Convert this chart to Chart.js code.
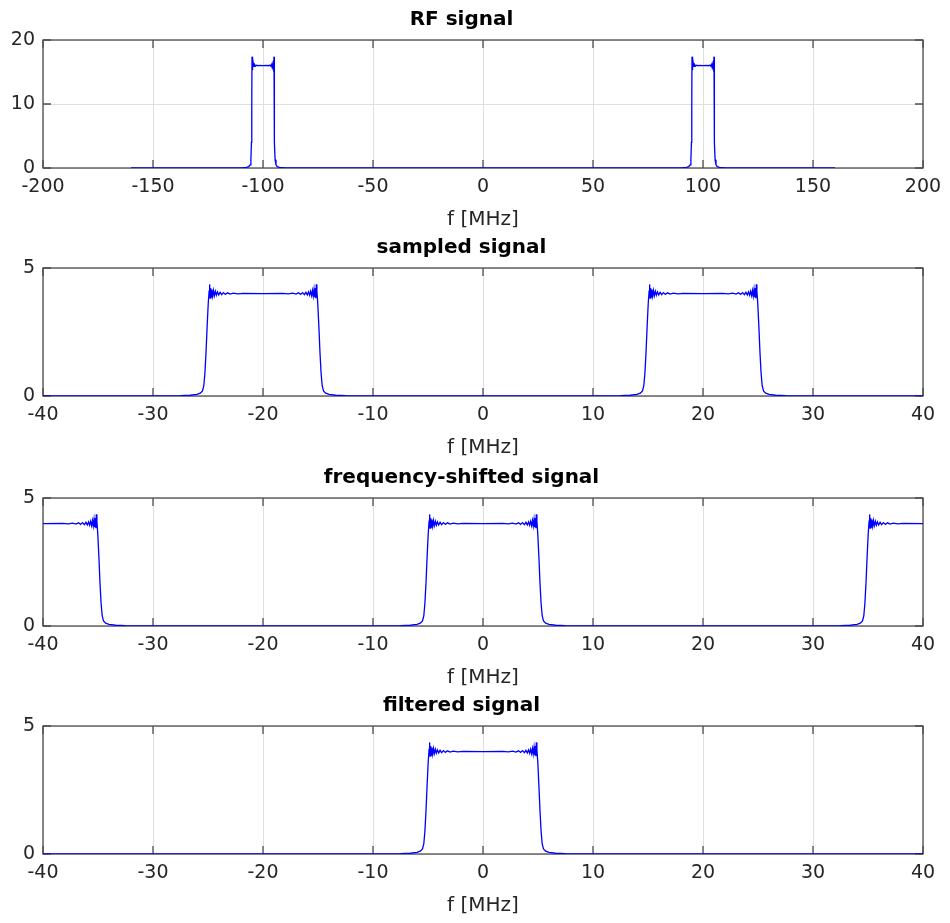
<!DOCTYPE html>
<html>
<head>
<meta charset="utf-8">
<script src="https://cdn.jsdelivr.net/npm/chart.js@4.4.0/dist/chart.umd.min.js"></script>
<style>
body { margin: 0; background: #fff; width: 950px; height: 923px; position: relative; overflow: hidden; }
canvas { position: absolute; left: 0; }
</style>
</head>
<body>
<canvas id="chart1" width="950" height="232" style="top:0px"></canvas>
<canvas id="chart2" width="950" height="232" style="top:228px"></canvas>
<canvas id="chart3" width="950" height="232" style="top:458px"></canvas>
<canvas id="chart4" width="950" height="232" style="top:686px"></canvas>
<script>
// [f in MHz, magnitude]
const rfSignal = [
    [-160, 0], [-120, 0.01], [-110, 0.03], [-107.5, 0.08], [-106.5, 0.2], [-105.9, 0.5], [-105.5, 1.3],
    [-105.25, 4], [-105.1, 10], [-105.0, 17.4], [-104.93, 15.3], [-104.85, 16.8], [-104.76, 15.5],
    [-104.66, 16.55], [-104.55, 15.65], [-104.43, 16.35], [-104.3, 15.8], [-104.15, 16.22], [-103.95, 15.88],
    [-103.7, 16.12], [-103.4, 15.94], [-103.0, 16.06], [-102.4, 15.98], [-101.5, 16.02], [-100, 16.0],
    [-98.5, 16.02], [-97.6, 15.98], [-97.0, 16.06], [-96.6, 15.94], [-96.3, 16.12], [-96.05, 15.88],
    [-95.85, 16.22], [-95.7, 15.8], [-95.57, 16.35], [-95.45, 15.65], [-95.34, 16.55], [-95.24, 15.5],
    [-95.15, 16.8], [-95.07, 15.3], [-95.0, 17.4], [-94.9, 10], [-94.75, 4], [-94.5, 1.3], [-94.1, 0.5],
    [-93.5, 0.2], [-92.5, 0.08], [-90, 0.03], [-80, 0.01], [0, 0],
    [80, 0.01], [90, 0.03], [92.5, 0.08], [93.5, 0.2], [94.1, 0.5], [94.5, 1.3], [94.75, 4], [94.9, 10],
    [95.0, 17.4], [95.07, 15.3], [95.15, 16.8], [95.24, 15.5], [95.34, 16.55], [95.45, 15.65], [95.57, 16.35],
    [95.7, 15.8], [95.85, 16.22], [96.05, 15.88], [96.3, 16.12], [96.6, 15.94], [97.0, 16.06], [97.6, 15.98],
    [98.5, 16.02], [100, 16.0], [101.5, 16.02], [102.4, 15.98], [103.0, 16.06], [103.4, 15.94], [103.7, 16.12],
    [103.95, 15.88], [104.15, 16.22], [104.3, 15.8], [104.43, 16.35], [104.55, 15.65], [104.66, 16.55],
    [104.76, 15.5], [104.85, 16.8], [104.93, 15.3], [105.0, 17.4], [105.1, 10], [105.25, 4], [105.5, 1.3],
    [105.9, 0.5], [106.5, 0.2], [107.5, 0.08], [110, 0.03], [120, 0.01], [160, 0]
];

const sampledSignal = [
    [-40, 0], [-32, 0.003], [-29, 0.008], [-27.5, 0.015], [-26.6, 0.03], [-26.0, 0.06], [-25.7, 0.11],
    [-25.5, 0.2], [-25.38, 0.4], [-25.28, 0.9], [-25.18, 1.7], [-25.08, 2.7], [-24.98, 3.6], [-24.9, 4.1],
    [-24.85, 4.36], [-24.81, 3.82], [-24.76, 4.22], [-24.7, 3.86], [-24.64, 4.16], [-24.57, 3.9], [-24.5, 4.12],
    [-24.42, 3.92], [-24.33, 4.09], [-24.24, 3.94], [-24.14, 4.07], [-24.03, 3.95], [-23.9, 4.05], [-23.76, 3.96],
    [-23.6, 4.04], [-23.42, 3.97], [-23.22, 4.03], [-23.0, 3.98], [-22.7, 4.02], [-22.3, 3.99], [-21.8, 4.01],
    [-20.0, 4.0], [-18.2, 4.01], [-17.7, 3.99], [-17.3, 4.02], [-17.0, 3.98], [-16.78, 4.03], [-16.58, 3.97],
    [-16.4, 4.04], [-16.24, 3.96], [-16.1, 4.05], [-15.97, 3.95], [-15.86, 4.07], [-15.76, 3.94], [-15.67, 4.09],
    [-15.58, 3.92], [-15.5, 4.12], [-15.43, 3.9], [-15.36, 4.16], [-15.3, 3.86], [-15.24, 4.22], [-15.19, 3.82],
    [-15.15, 4.36], [-15.1, 4.1], [-15.02, 3.6], [-14.92, 2.7], [-14.82, 1.7], [-14.72, 0.9], [-14.62, 0.4],
    [-14.5, 0.2], [-14.3, 0.11], [-14.0, 0.06], [-13.4, 0.03], [-12.5, 0.015], [-11, 0.008], [-8, 0.003], [0, 0],
    [8, 0.003], [11, 0.008], [12.5, 0.015], [13.4, 0.03], [14.0, 0.06], [14.3, 0.11], [14.5, 0.2], [14.62, 0.4],
    [14.72, 0.9], [14.82, 1.7], [14.92, 2.7], [15.02, 3.6], [15.1, 4.1], [15.15, 4.36], [15.19, 3.82], [15.24, 4.22],
    [15.3, 3.86], [15.36, 4.16], [15.43, 3.9], [15.5, 4.12], [15.58, 3.92], [15.67, 4.09], [15.76, 3.94],
    [15.86, 4.07], [15.97, 3.95], [16.1, 4.05], [16.24, 3.96], [16.4, 4.04], [16.58, 3.97], [16.78, 4.03],
    [17.0, 3.98], [17.3, 4.02], [17.7, 3.99], [18.2, 4.01], [20.0, 4.0], [21.8, 4.01], [22.3, 3.99], [22.7, 4.02],
    [23.0, 3.98], [23.22, 4.03], [23.42, 3.97], [23.6, 4.04], [23.76, 3.96], [23.9, 4.05], [24.03, 3.95],
    [24.14, 4.07], [24.24, 3.94], [24.33, 4.09], [24.42, 3.92], [24.5, 4.12], [24.57, 3.9], [24.64, 4.16],
    [24.7, 3.86], [24.76, 4.22], [24.81, 3.82], [24.85, 4.36], [24.9, 4.1], [24.98, 3.6], [25.08, 2.7],
    [25.18, 1.7], [25.28, 0.9], [25.38, 0.4], [25.5, 0.2], [25.7, 0.11], [26.0, 0.06], [26.6, 0.03],
    [27.5, 0.015], [29, 0.008], [32, 0.003], [40, 0]
];

// the band around 0 MHz, seen in both the shifted and the filtered spectrum
const passband = [
    [-12, 0.003], [-9, 0.008], [-7.5, 0.015], [-6.6, 0.03], [-6.0, 0.06], [-5.7, 0.11], [-5.5, 0.2],
    [-5.38, 0.4], [-5.28, 0.9], [-5.18, 1.7], [-5.08, 2.7], [-4.98, 3.6], [-4.9, 4.1], [-4.85, 4.36],
    [-4.81, 3.82], [-4.76, 4.22], [-4.7, 3.86], [-4.64, 4.16], [-4.57, 3.9], [-4.5, 4.12], [-4.42, 3.92],
    [-4.33, 4.09], [-4.24, 3.94], [-4.14, 4.07], [-4.03, 3.95], [-3.9, 4.05], [-3.76, 3.96], [-3.6, 4.04],
    [-3.42, 3.97], [-3.22, 4.03], [-3.0, 3.98], [-2.7, 4.02], [-2.3, 3.99], [-1.8, 4.01], [0, 4.0],
    [1.8, 4.01], [2.3, 3.99], [2.7, 4.02], [3.0, 3.98], [3.22, 4.03], [3.42, 3.97], [3.6, 4.04], [3.76, 3.96],
    [3.9, 4.05], [4.03, 3.95], [4.14, 4.07], [4.24, 3.94], [4.33, 4.09], [4.42, 3.92], [4.5, 4.12], [4.57, 3.9],
    [4.64, 4.16], [4.7, 3.86], [4.76, 4.22], [4.81, 3.82], [4.85, 4.36], [4.9, 4.1], [4.98, 3.6], [5.08, 2.7],
    [5.18, 1.7], [5.28, 0.9], [5.38, 0.4], [5.5, 0.2], [5.7, 0.11], [6.0, 0.06], [6.6, 0.03], [7.5, 0.015],
    [9, 0.008], [12, 0.003]
];

const shiftedLeft = [
    [-40, 4.0], [-38.2, 4.01], [-37.7, 3.99], [-37.3, 4.02], [-37.0, 3.98], [-36.78, 4.03], [-36.58, 3.97],
    [-36.4, 4.04], [-36.24, 3.96], [-36.1, 4.05], [-35.97, 3.95], [-35.86, 4.07], [-35.76, 3.94], [-35.67, 4.09],
    [-35.58, 3.92], [-35.5, 4.12], [-35.43, 3.9], [-35.36, 4.16], [-35.3, 3.86], [-35.24, 4.22], [-35.19, 3.82],
    [-35.15, 4.36], [-35.1, 4.1], [-35.02, 3.6], [-34.92, 2.7], [-34.82, 1.7], [-34.72, 0.9], [-34.62, 0.4],
    [-34.5, 0.2], [-34.3, 0.11], [-34.0, 0.06], [-33.4, 0.03], [-32.5, 0.015], [-31, 0.008], [-28, 0.003], [-20, 0]
];
const shiftedRight = [
    [20, 0], [28, 0.003], [31, 0.008], [32.5, 0.015], [33.4, 0.03], [34.0, 0.06], [34.3, 0.11], [34.5, 0.2],
    [34.62, 0.4], [34.72, 0.9], [34.82, 1.7], [34.92, 2.7], [35.02, 3.6], [35.1, 4.1], [35.15, 4.36],
    [35.19, 3.82], [35.24, 4.22], [35.3, 3.86], [35.36, 4.16], [35.43, 3.9], [35.5, 4.12], [35.58, 3.92],
    [35.67, 4.09], [35.76, 3.94], [35.86, 4.07], [35.97, 3.95], [36.1, 4.05], [36.24, 3.96], [36.4, 4.04],
    [36.58, 3.97], [36.78, 4.03], [37.0, 3.98], [37.3, 4.02], [37.7, 3.99], [38.2, 4.01], [40, 4.0]
];
const shiftedSignal = [...shiftedLeft, ...passband, ...shiftedRight];

const filteredSignal = [[-40, 0], [-20, 0], ...passband, [20, 0], [40, 0]];

const titles = ['RF signal', 'sampled signal', 'frequency-shifted signal', 'filtered signal'];
const xLabel = 'f [MHz]';

const axisColor = '#4d4d4d';
const gridColor = '#dfdfdf';
const textColor = '#262626';

// MATLAB-like box with inward tick marks on all four sides
const boxPlugin = {
    id: 'box',
    beforeDatasetsDraw(chart) {
        const ctx = chart.ctx;
        const a = chart.chartArea;
        const sx = chart.scales.x;
        const sy = chart.scales.y;
        ctx.save();
        ctx.strokeStyle = axisColor;
        ctx.lineWidth = 1.3;
        ctx.beginPath();
        sx.ticks.forEach(t => {
            const px = sx.getPixelForValue(t.value);
            ctx.moveTo(px, a.bottom); ctx.lineTo(px, a.bottom - 8);
            ctx.moveTo(px, a.top); ctx.lineTo(px, a.top + 8);
        });
        sy.ticks.forEach(t => {
            const py = sy.getPixelForValue(t.value);
            ctx.moveTo(a.left, py); ctx.lineTo(a.left + 8, py);
            ctx.moveTo(a.right, py); ctx.lineTo(a.right - 8, py);
        });
        ctx.stroke();
        ctx.strokeRect(a.left, a.top, a.right - a.left, a.bottom - a.top);
        ctx.restore();
    }
};

function makeChart(id, title, points, xMin, xMax, xStep, yMax, yStep) {
    const ctx = document.getElementById(id).getContext('2d');
    return new Chart(ctx, {
        type: 'line',
        data: {
            datasets: [{
                data: points.map(p => ({ x: p[0], y: p[1] })),
                borderColor: '#0000ff',
                borderWidth: 1.3,
                pointRadius: 0,
                tension: 0,
                fill: false
            }]
        },
        options: {
            responsive: false,
            animation: false,
            devicePixelRatio: 1,
            layout: { padding: { left: 0, right: 27, top: 0, bottom: 0 } },
            plugins: {
                legend: { display: false },
                tooltip: { enabled: false },
                title: {
                    display: true,
                    text: title,
                    color: '#000',
                    font: { family: 'DejaVu Sans', size: 20, weight: 'bold' },
                    padding: { top: 8, bottom: 8 }
                }
            },
            scales: {
                x: {
                    type: 'linear',
                    min: xMin,
                    max: xMax,
                    ticks: {
                        stepSize: xStep,
                        padding: 8,
                        color: textColor,
                        maxRotation: 0,
                        autoSkip: false,
                        font: { family: 'DejaVu Sans', size: 19 }
                    },
                    grid: { color: gridColor, drawTicks: false },
                    border: { display: false },
                    title: {
                        display: true,
                        text: xLabel,
                        color: textColor,
                        padding: 0,
                        font: { family: 'DejaVu Sans', size: 20 }
                    },
                    afterFit: s => { s.height = 64; }
                },
                y: {
                    type: 'linear',
                    min: 0,
                    max: yMax,
                    ticks: {
                        stepSize: yStep,
                        padding: 8,
                        color: textColor,
                        font: { family: 'DejaVu Sans', size: 19 }
                    },
                    grid: { color: gridColor, drawTicks: false },
                    border: { display: false },
                    afterFit: s => { s.width = 43; }
                }
            }
        },
        plugins: [boxPlugin]
    });
}

makeChart('chart1', titles[0], rfSignal, -200, 200, 50, 20, 10);
makeChart('chart2', titles[1], sampledSignal, -40, 40, 10, 5, 5);
makeChart('chart3', titles[2], shiftedSignal, -40, 40, 10, 5, 5);
makeChart('chart4', titles[3], filteredSignal, -40, 40, 10, 5, 5);
</script>
</body>
</html>
